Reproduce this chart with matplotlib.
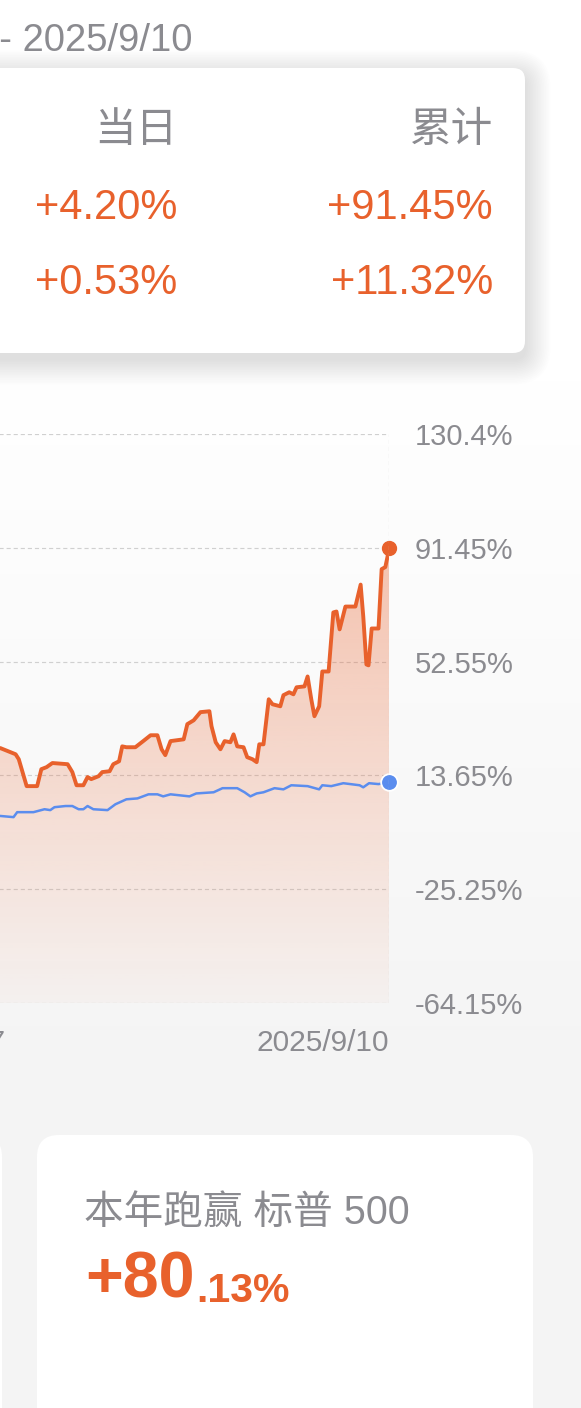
import numpy as np
import matplotlib.pyplot as plt
from matplotlib.patches import FancyBboxPatch
from matplotlib.colors import to_rgb

plt.rcParams['font.family'] = ['Liberation Sans', 'Noto Sans CJK SC']

# ---- data (only the right part of the chart is visible) ----
# x = trading-day index counted from the first day of 2025, last point = 2025/9/10
fund_days = [96.5, 97.0, 99.9, 100.5, 102.0, 104.0, 104.8, 105.8, 106.9, 109.8, 110.7,
             111.5, 112.8, 113.6, 114.3, 115.7, 116.4, 117.8, 118.5, 119.6, 120.2,
             121.0, 122.7, 124.2, 125.6, 126.9, 127.7, 128.4, 129.4, 131.9, 132.6,
             133.8, 135.1, 136.8, 137.2, 138.0, 138.9, 139.7, 140.8, 141.4, 142.1,
             143.3, 144.0, 145.0, 145.8, 146.3, 147.1, 148.1, 148.8, 150.3, 150.9,
             152.0, 152.8, 153.4, 154.9, 155.5, 156.2, 156.8, 157.7, 158.3, 159.5,
             160.4, 161.0, 161.6, 162.7, 164.6, 165.6, 166.1, 166.7, 167.1, 167.7,
             169.0, 169.6, 170.3, 170.7, 171.0]
fund_pct = [23.0, 23.0, 20.9, 19.2, 10.0, 10.0, 15.8, 16.5, 17.9, 17.5, 14.8,
            10.3, 10.3, 13.1, 12.4, 13.4, 14.8, 15.1, 17.5, 18.5, 23.6,
            23.3, 23.3, 25.4, 27.4, 27.4, 22.6, 20.6, 25.4, 26.0, 31.2,
            32.5, 35.3, 35.6, 30.5, 25.0, 22.6, 25.4, 25.0, 27.7, 23.6,
            23.3, 19.9, 19.2, 18.2, 24.3, 24.3, 39.7, 38.0, 37.3, 41.1,
            42.1, 41.4, 43.8, 44.1, 47.5, 39.7, 33.9, 37.3, 49.2, 49.2,
            69.4, 69.7, 63.6, 71.4, 71.4, 78.9, 68.0, 51.6, 51.3, 63.9,
            63.9, 84.2, 84.9, 88.3, 91.45]

sp500_days = [96.5, 97.0, 99.5, 100.2, 103.3, 105.4, 106.5, 107.3, 109.4, 110.7, 111.9,
              112.8, 113.6, 114.7, 117.4, 118.9, 121.0, 123.1, 125.2, 126.9, 128.0,
              129.4, 133.0, 134.3, 137.6, 139.3, 142.1, 143.5, 144.6, 145.8, 147.1,
              149.2, 150.9, 152.4, 155.5, 157.7, 158.3, 160.0, 162.3, 165.4, 166.1,
              167.2, 169.0, 171.0]
sp500_pct = [-0.2, -0.2, -0.6, 1.1, 1.1, 2.1, 1.8, 2.8, 3.2, 3.2, 2.1,
             2.1, 3.2, 2.1, 1.8, 3.8, 5.5, 5.8, 7.2, 7.2, 6.5,
             7.2, 6.5, 7.5, 7.9, 9.3, 9.3, 7.9, 6.5, 7.5, 7.9,
             9.3, 8.9, 10.3, 10.0, 8.9, 10.3, 10.0, 11.0, 10.3, 9.6,
             11.0, 10.7, 11.32]

y_ticks = [130.4, 91.45, 52.55, 13.65, -25.25, -64.15]
y_tick_labels = ['130.4%', '91.45%', '52.55%', '13.65%', '-25.25%', '-64.15%']
x_label_days = [87, 171]
x_labels = ['2025/5/7', '2025/9/10']

period_text = '2025/1/2 - 2025/9/10'
col_headers = ['当日', '累计']
fund_row = ['+4.20%', '+91.45%']
sp500_row = ['+0.53%', '+11.32%']
beat_title = '本年跑赢 标普 500'
beat_int = '+80'
beat_dec = '.13%'

ORANGE = '#E8612C'
BLUE = '#5B8DEE'
GREY = '#8B8B90'
GRID = '#D0D0D0'

W, H = 581, 1408
fig = plt.figure(figsize=(W / 100, H / 100), dpi=100)

# background layer in pixel coordinates
bg = fig.add_axes([0, 0, 1, 1])
rows = np.arange(H)
t = np.clip((rows - 380) / (1090 - 380), 0, 1)
shade = 1 - t * (1 - 0xF4 / 255)
bg.imshow(np.dstack([np.repeat(shade[:, None], 2, axis=1)] * 3),
          extent=[0, W, H, 0], aspect='auto', zorder=0)
bg.set_xlim(0, W)
bg.set_ylim(H, 0)
bg.axis('off')

# top card with soft shadow
for i in range(16):
    s = 1.6 * (i + 1)
    bg.add_patch(FancyBboxPatch((-60 - s, 70 - s + 6), 585 + 2 * s, 283 + 2 * s,
                                boxstyle=f'round,pad=0,rounding_size={12 + s}',
                                fc='black', ec='none', alpha=0.006, zorder=1))
bg.add_patch(FancyBboxPatch((-60, 68), 585, 285, boxstyle='round,pad=0,rounding_size=12',
                            fc='white', ec='none', zorder=2))

bg.text(193, 41, period_text, ha='right', va='center', fontsize=27.5, color=GREY, zorder=3)
for x, h, a, b in zip([177, 493], col_headers, fund_row, sp500_row):
    bg.text(x, 131, h, ha='right', va='center', fontsize=30, color=GREY, zorder=3)
    bg.text(x, 208, a, ha='right', va='center', fontsize=30, color=ORANGE, zorder=3)
    bg.text(x, 283, b, ha='right', va='center', fontsize=30, color=ORANGE, zorder=3)

# bottom cards
bg.add_patch(FancyBboxPatch((37, 1135), 496, 400, boxstyle='round,pad=0,rounding_size=22',
                            fc='white', ec='none', zorder=2))
bg.add_patch(FancyBboxPatch((-500, 1135), 502, 400, boxstyle='round,pad=0,rounding_size=22',
                            fc='white', ec='none', zorder=2))
bg.text(84, 1213, beat_title, ha='left', va='center', fontsize=28.5, color=GREY, zorder=3)
t80 = bg.text(85, 1297, beat_int, ha='left', va='baseline', fontsize=46.5,
              fontweight='bold', color=ORANGE, zorder=3)
bg.annotate(beat_dec, xy=(1, 0), xycoords=t80, xytext=(1, 0), textcoords='offset points',
            ha='left', va='bottom', fontsize=29.5, fontweight='bold', color=ORANGE, zorder=3)

# chart (its left part runs off the picture)
ax = fig.add_axes([-509 / W, 1 - 1003 / H, 898 / W, 569 / H])
ax.patch.set_alpha(0)
for sp in ax.spines.values():
    sp.set_visible(False)
ymin, ymax = y_ticks[-1], y_ticks[0]
xmax = fund_days[-1]

for v in y_ticks:
    ax.axhline(v, color=GRID, lw=0.85, ls=(0, (3.5, 2.5)), zorder=1)

poly = ax.fill_between(fund_days, fund_pct, ymin, fc='none', ec='none')
rgba = np.zeros((256, 1, 4))
rgba[..., :3] = to_rgb(ORANGE)
rgba[:, 0, 3] = np.linspace(0.46, 0.03, 256)
im = ax.imshow(rgba, extent=[0, xmax, ymin, ymax], aspect='auto', origin='upper', zorder=2)
im.set_clip_path(poly.get_paths()[0], transform=ax.transData)

ax.plot(sp500_days, sp500_pct, color=BLUE, lw=1.8, zorder=4, solid_joinstyle='round')
ax.plot(fund_days, fund_pct, color=ORANGE, lw=2.8, zorder=4, solid_joinstyle='round')
ax.plot(fund_days[-1], fund_pct[-1], 'o', ms=10, color=ORANGE, zorder=5, clip_on=False)
ax.plot(sp500_days[-1], sp500_pct[-1], 'o', ms=12, mfc=BLUE, mec='white', mew=1.3,
        zorder=5, clip_on=False)
ax.axvline(xmax, color=GRID, lw=0.85, ls=(0, (3.5, 2.5)), zorder=6)

ax.set_xlim(0, xmax)
ax.set_ylim(ymin, ymax)
ax.set_xticks([])
ax.yaxis.tick_right()
ax.set_yticks(y_ticks)
ax.set_yticklabels(y_tick_labels)
ax.tick_params(axis='y', length=0, pad=18.7, labelsize=21, labelcolor=GREY)

for d, lab in zip(x_label_days, x_labels):
    ax.annotate(lab, xy=(d, ymin), xytext=(0, -28.5), textcoords='offset points',
                ha='right' if d == xmax else 'center', va='center', fontsize=21.5, color=GREY)

fig.savefig('out.png', dpi=100)
